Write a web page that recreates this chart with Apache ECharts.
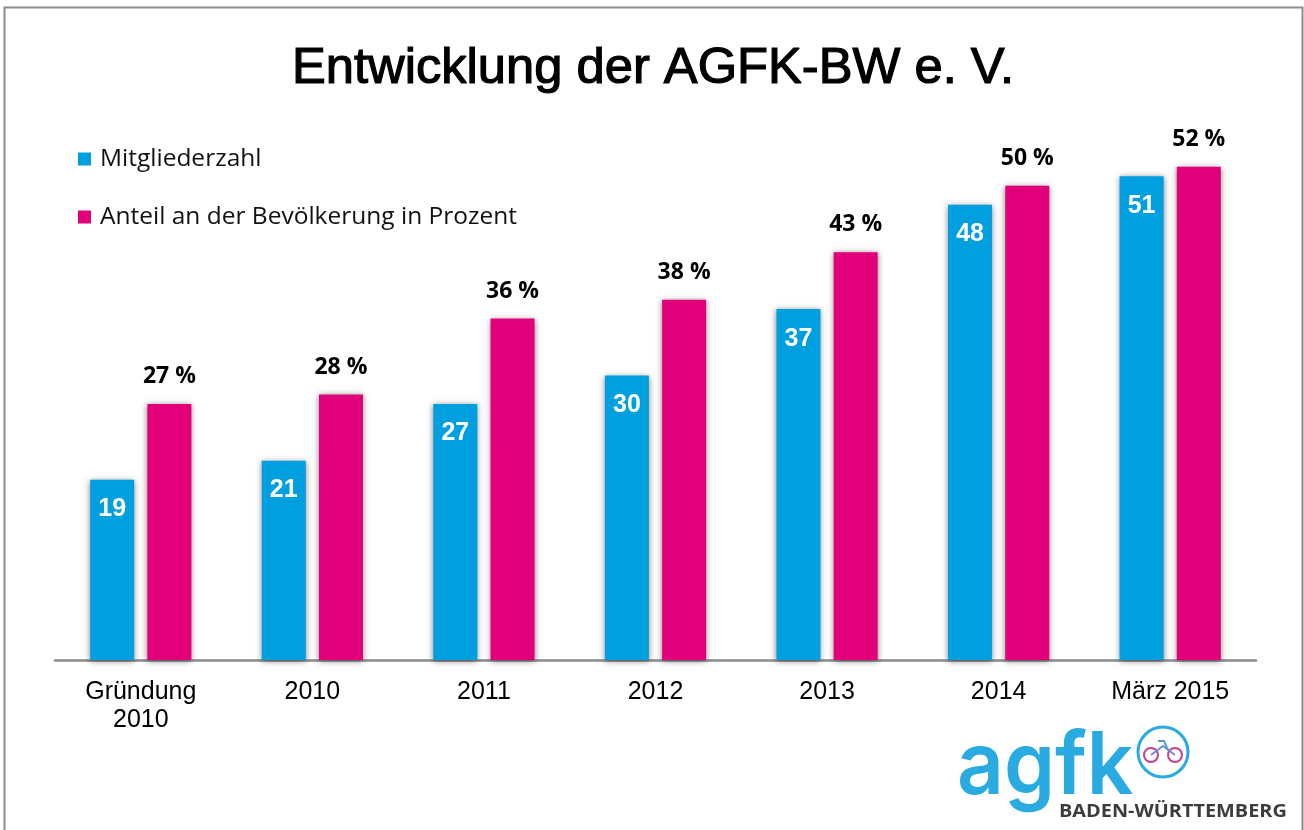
<!DOCTYPE html>
<html>
<head>
<meta charset="utf-8">
<style>
  html, body { margin: 0; padding: 0; background: #fff; overflow: hidden; }
  #main { width: 1304px; height: 830px; }
</style>
<script src="https://cdn.jsdelivr.net/npm/echarts@6/dist/echarts.min.js"></script>
</head>
<body>
<div id="main"></div>
<script>
const categories = ["Gründung\n2010", "2010", "2011", "2012", "2013", "2014", "März 2015"];
const mitglieder = [19, 21, 27, 30, 37, 48, 51];
const anteil = [27, 28, 36, 38, 43, 50, 52];

const BLUE = "#009fe0";
const PINK = "#e2007a";
const LOGO_BLUE = "#29abe2";

const barShadow = {
  shadowColor: "rgba(0,0,0,0.5)",
  shadowBlur: 6,
  shadowOffsetX: 0,
  shadowOffsetY: 1,
};

const myChart = echarts.init(document.getElementById("main"), null, { renderer: "canvas" });
const option = {
  animation: false,
  backgroundColor: "#fff",
  title: {
    text: "Entwicklung der AGFK-BW e. V.",
    left: 648,
    top: 39,
    textAlign: "center",
    textStyle: {
      fontFamily: "Liberation Sans",
      fontSize: 50.7,
      fontWeight: "normal",
      color: "#000",
      textBorderColor: "#000",
      textBorderWidth: 1.2,
    },
  },
  legend: {
    orient: "vertical",
    left: 73,
    top: 139,
    itemWidth: 13,
    itemHeight: 13,
    itemGap: 28,
    icon: "rect",
    textStyle: {
      fontFamily: "Open Sans",
      fontSize: 24.5,
      color: "#111",
      padding: [0, 0, 0, 4],
      height: 30,
      lineHeight: 30,
    },
  },
  grid: { left: 55, right: 48, top: 91, bottom: 170 },
  xAxis: {
    type: "category",
    data: categories,
    axisTick: { show: false },
    axisLine: { lineStyle: { color: "#8c8c8c", width: 2.5 } },
    axisLabel: {
      fontFamily: "Liberation Sans",
      fontSize: 25,
      lineHeight: 28,
      color: "#000",
      margin: 18,
      interval: 0,
    },
  },
  yAxis: { type: "value", min: 0, max: 60, show: false },
  series: [
    {
      name: "Mitgliederzahl",
      type: "bar",
      data: mitglieder,
      barWidth: 44,
      barGap: "30%",
      itemStyle: { color: BLUE, ...barShadow },
      label: {
        show: true,
        position: "insideTop",
        distance: 17,
        fontFamily: "Liberation Sans",
        fontWeight: "bold",
        fontSize: 25,
        color: "#fff",
      },
    },
    {
      name: "Anteil an der Bevölkerung in Prozent",
      type: "bar",
      data: anteil,
      barWidth: 44,
      itemStyle: { color: PINK, ...barShadow },
      label: {
        show: true,
        position: "top",
        distance: 16,
        formatter: "{c} %",
        fontFamily: "Open Sans",
        fontWeight: "bold",
        fontSize: 23,
        color: "#000",
      },
    },
  ],
  graphic: [
    // Rahmen
    { type: "rect", silent: true, shape: { x: 4.5, y: 7.5, width: 1298, height: 840 },
      style: { fill: "none", stroke: "#8c8c8c", lineWidth: 2 } },
    // Logo
    { type: "text", silent: true, x: 957, y: 725, scaleX: 0.95,
      style: { text: "agfk", fontFamily: "Inter", fontWeight: 600, fontSize: 86, fill: LOGO_BLUE } },
    { type: "circle", silent: true, shape: { cx: 1163, cy: 752, r: 25 },
      style: { fill: "#fff", stroke: LOGO_BLUE, lineWidth: 3 } },
    { type: "circle", silent: true, shape: { cx: 1151, cy: 755, r: 7 },
      style: { fill: "none", stroke: "#c9408f", lineWidth: 2 } },
    { type: "circle", silent: true, shape: { cx: 1175, cy: 755, r: 7 },
      style: { fill: "none", stroke: "#c9408f", lineWidth: 2 } },
    { type: "polyline", silent: true, shape: { points: [[1151, 755], [1163, 746], [1175, 755]] },
      style: { fill: "none", stroke: "#6f8fd0", lineWidth: 2 } },
    { type: "polyline", silent: true, shape: { points: [[1158, 741], [1164, 741], [1168, 750]] },
      style: { fill: "none", stroke: "#4fa0dc", lineWidth: 2 } },
    { type: "text", silent: true, x: 1059, y: 804, scaleX: 1.17,
      style: { text: "BADEN-WÜRTTEMBERG", fontFamily: "Open Sans", fontWeight: "bold", fontSize: 17, fill: "#3c3c3c" } },
  ],
};
myChart.setOption(option);
</script>
</body>
</html>
